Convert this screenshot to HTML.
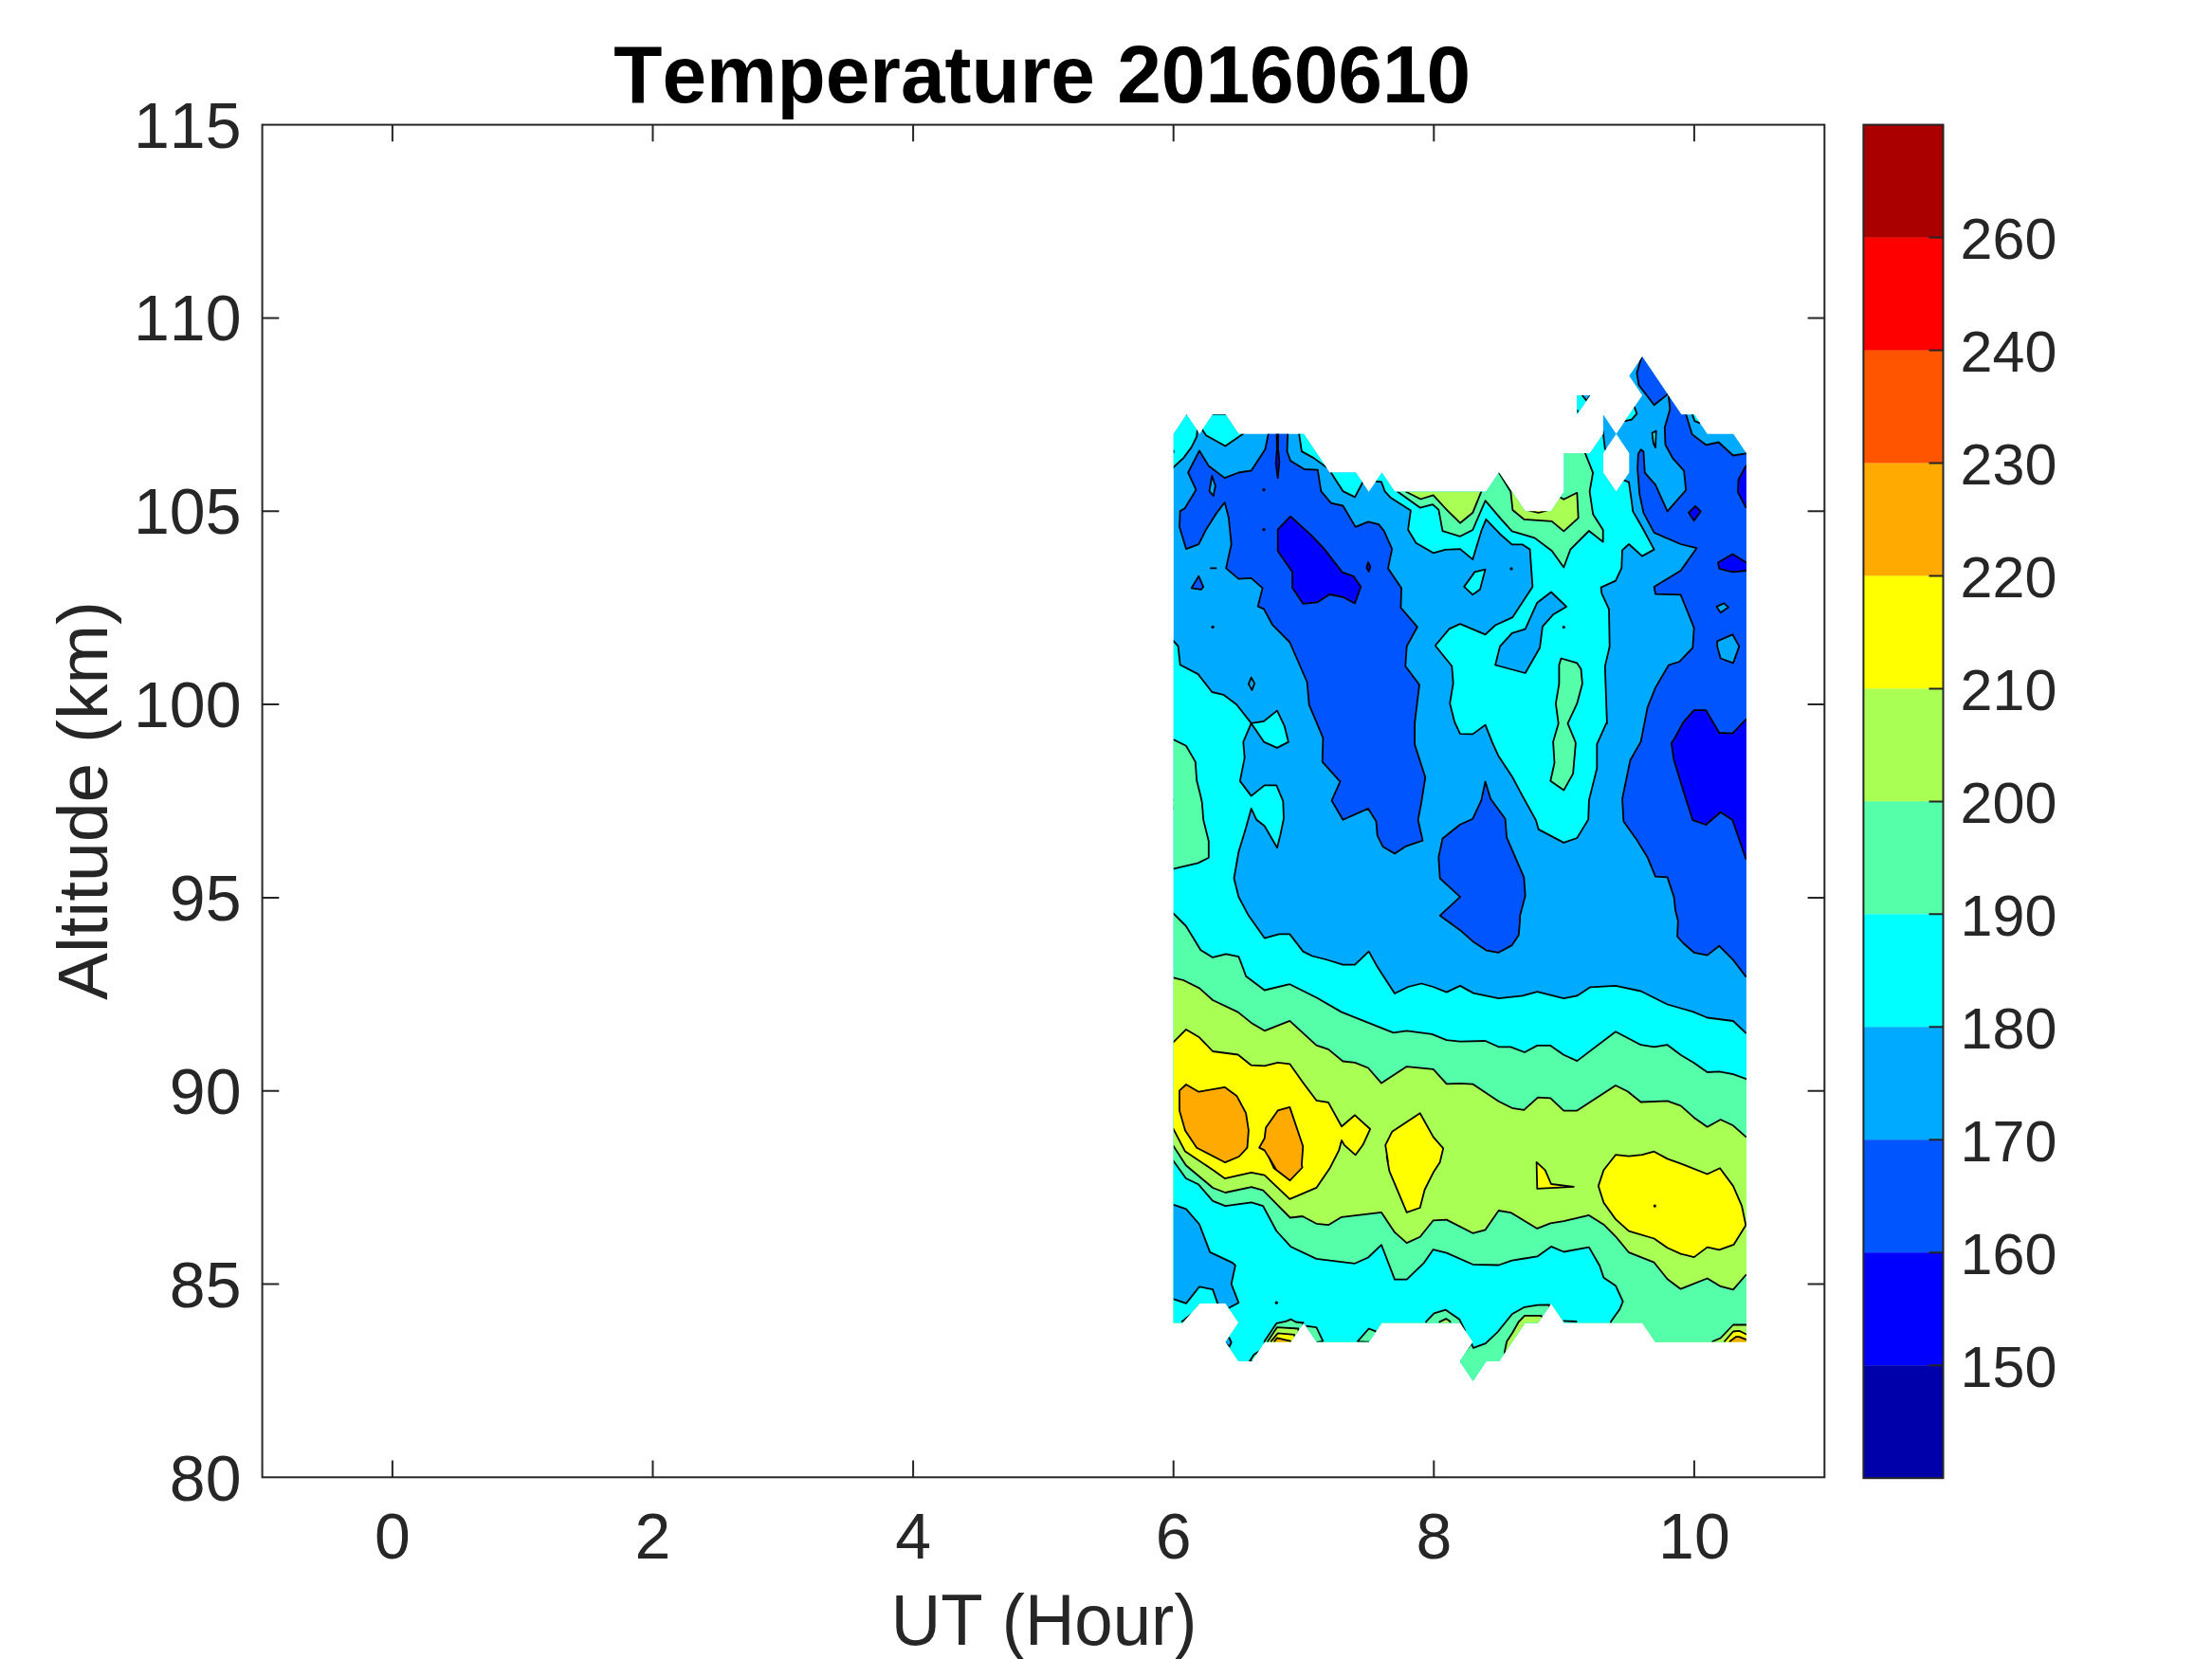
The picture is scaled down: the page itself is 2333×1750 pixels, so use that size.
<!DOCTYPE html>
<html><head><meta charset="utf-8">
<style>
html,body{margin:0;padding:0;background:#fff;width:2333px;height:1750px;overflow:hidden}
svg{display:block}
text{font-family:"Liberation Sans",sans-serif;fill:#262626;font-kerning:none;font-feature-settings:"kern" 0}
</style></head><body>
<svg width="2333" height="1750" viewBox="0 0 2333 1750">
<rect x="0" y="0" width="2333" height="1750" fill="#fff"/>
<!--CONTOUR-->
<defs><clipPath id="dm"><path clip-rule="evenodd" d="M1237.8 457.7 L1251.5 437.3 L1265.2 457.7 L1279.0 437.3 L1292.7 437.3 L1306.4 457.7 L1375.1 457.7 L1402.5 498.5 L1430.0 498.5 L1443.7 518.8 L1457.5 498.5 L1471.2 518.8 L1567.3 518.8 L1581.0 498.5 L1594.8 518.8 L1608.5 539.2 L1636.0 539.2 L1649.7 518.8 L1649.7 478.1 L1677.1 478.1 L1690.9 457.7 L1690.9 437.3 L1704.6 457.7 L1732.1 416.9 L1718.3 396.6 L1732.1 376.2 L1773.3 437.3 L1787.0 437.3 L1800.7 457.7 L1828.2 457.7 L1841.9 478.1 L1841.9 1415.6 L1745.8 1415.6 L1732.1 1395.2 L1649.7 1395.2 L1636.0 1374.9 L1622.2 1395.2 L1608.5 1395.2 L1581.0 1436.0 L1567.3 1436.0 L1553.6 1456.4 L1539.8 1436.0 L1553.6 1415.6 L1539.8 1395.2 L1457.5 1395.2 L1443.7 1415.6 L1388.8 1415.6 L1375.1 1395.2 L1361.3 1415.6 L1333.9 1415.6 L1320.1 1436.0 L1306.4 1436.0 L1292.7 1415.6 L1306.4 1395.2 L1292.7 1374.9 L1265.2 1374.9 L1247.4 1395.2 L1237.8 1395.2ZM1704.6 457.7 L1718.3 478.1 L1718.3 498.5 L1704.6 518.8 L1690.9 498.5 L1690.9 478.1ZM1663.4 416.9 L1677.1 416.9 L1663.4 437.3Z"/></clipPath></defs>
<g clip-path="url(#dm)">
<path d="M1200.0 300.0 L1880.0 300.0 L1880.0 1480.0 L1200.0 1480.0Z" fill="#00AAFF"/>
<g stroke="#000" stroke-width="1.8" stroke-linejoin="round">
<path d="M1237.0 493.6 L1248.2 483.1 L1256.6 471.9 L1262.2 460.6 L1262.9 452.9 L1263.6 436.8 L1230.0 436.8 L1230.0 493.6Z" fill="#00FFFF"/>
<path d="M1267.8 452.9 L1272.0 459.2 L1292.4 470.5 L1312.0 457.1 L1314.1 436.8 L1267.1 436.8Z" fill="#00FFFF"/>
<path d="M1370.1 457.1 L1372.9 476.1 L1385.6 483.1 L1398.9 492.9 L1405.2 487.3 L1370.1 441.0Z" fill="#00FFFF"/>
<path d="M1403.8 498.5 L1416.4 518.1 L1429.0 524.4 L1437.1 509.0 L1438.8 498.5 L1403.8 492.9Z" fill="#00FFFF"/>
<path d="M1450.0 507.6 L1457.0 508.3 L1460.5 518.1 L1466.8 525.1 L1487.9 538.4 L1485.1 558.7 L1493.5 572.8 L1511.7 583.3 L1524.3 579.8 L1540.0 579.1 L1553.3 590.1 L1562.4 560.0 L1567.3 547.8 L1582.0 563.2 L1594.7 574.4 L1605.9 574.4 L1613.6 579.6 L1616.4 618.9 L1595.4 651.1 L1577.1 659.5 L1566.6 669.3 L1540.0 658.1 L1528.5 663.4 L1513.8 681.0 L1531.3 702.7 L1532.7 720.9 L1529.2 741.9 L1534.1 761.5 L1540.0 774.2 L1553.3 774.4 L1566.6 764.6 L1573.6 782.4 L1580.6 797.8 L1594.7 818.9 L1605.9 839.9 L1619.9 865.1 L1622.7 874.9 L1649.3 888.9 L1663.3 884.0 L1675.2 864.4 L1675.9 844.1 L1684.3 810.5 L1684.3 785.2 L1694.2 762.8 L1694.9 763.2 L1692.8 702.9 L1697.7 681.9 L1697.0 642.7 L1689.3 625.9 L1688.6 619.6 L1704.0 612.6 L1710.3 599.2 L1711.0 580.3 L1718.0 574.0 L1732.0 586.6 L1744.6 579.6 L1732.0 556.2 L1722.2 539.4 L1720.8 528.2 L1718.0 508.6 L1712.4 506.5 L1704.0 486.1 L1692.8 473.5 L1690.7 455.3 L1680.1 444.1 L1680.1 402.0 L1582.0 402.0 L1456.0 470.0 L1440.0 505.0Z" fill="#00FFFF"/>
<path d="M1544.2 618.9 L1555.4 603.4 L1566.6 600.6 L1561.0 621.7 L1553.3 627.3Z" fill="#00FFFF"/>
<path d="M1713.8 444.1 L1720.8 442.7 L1726.4 436.4 L1723.6 428.7 L1722.2 416.1 L1708.2 438.5Z" fill="#00FFFF"/>
<path d="M1784.6 436.4 L1787.4 444.1 L1792.3 446.2 L1796.5 438.5 L1786.7 430.1Z" fill="#00FFFF"/>
<path d="M1237.0 675.4 L1242.6 681.7 L1244.7 701.3 L1263.6 711.1 L1278.3 730.0 L1290.3 732.8 L1304.3 743.3 L1319.7 762.9 L1311.3 782.6 L1312.7 799.4 L1307.8 823.9 L1319.7 839.6 L1333.7 828.4 L1346.3 828.4 L1353.3 845.2 L1354.0 863.4 L1350.5 880.3 L1347.0 894.3 L1333.7 871.2 L1325.3 864.8 L1319.7 852.9 L1314.1 873.3 L1306.4 898.5 L1301.5 926.5 L1306.4 946.1 L1316.9 965.8 L1333.7 989.6 L1349.1 985.4 L1360.3 985.4 L1374.3 1003.6 L1384.2 1008.5 L1398.2 1012.0 L1416.4 1017.6 L1429.0 1017.6 L1443.7 1003.6 L1452.8 1020.0 L1471.0 1048.0 L1485.1 1041.0 L1499.1 1037.5 L1511.7 1041.0 L1525.7 1046.6 L1540.0 1039.9 L1554.0 1047.6 L1580.6 1053.2 L1605.9 1050.4 L1621.3 1046.2 L1649.3 1053.2 L1663.3 1050.4 L1677.3 1041.3 L1704.0 1039.9 L1730.6 1045.5 L1758.6 1059.5 L1785.3 1067.2 L1800.7 1073.5 L1828.0 1077.0 L1841.3 1089.6 L1890.4 1089.6 L1880.0 1480.0 L1200.0 1480.0 L1188.0 675.4Z" fill="#00FFFF"/>
<path d="M1319.7 762.9 L1333.0 760.8 L1347.0 749.6 L1354.7 765.8 L1358.9 782.6 L1347.0 788.9 L1333.0 782.6Z" fill="#00FFFF"/>
<path d="M1337.9 457.1 L1334.4 474.0 L1319.7 496.4 L1306.4 498.5 L1291.7 504.1 L1274.8 491.5 L1265.0 475.4 L1253.1 498.5 L1261.5 516.7 L1249.6 536.3 L1244.7 539.1 L1244.0 555.9 L1251.0 579.1 L1264.3 574.2 L1272.0 558.7 L1282.6 541.9 L1291.7 530.0 L1295.9 546.1 L1298.7 574.2 L1293.1 599.4 L1306.4 610.6 L1319.7 609.9 L1331.6 620.4 L1326.7 639.6 L1333.0 642.4 L1342.1 659.2 L1360.3 677.5 L1378.6 719.5 L1380.7 743.3 L1395.4 778.4 L1394.7 803.6 L1412.2 823.2 L1413.6 824.2 L1404.5 844.5 L1416.4 864.8 L1443.0 852.9 L1451.4 866.2 L1452.8 881.7 L1458.4 892.9 L1471.0 900.6 L1482.3 892.9 L1500.5 886.6 L1495.6 864.8 L1499.1 846.6 L1503.3 820.0 L1492.1 785.4 L1492.1 762.9 L1497.0 722.3 L1482.3 702.7 L1483.7 681.7 L1494.9 661.3 L1477.4 641.0 L1478.1 620.0 L1478.1 620.4 L1464.0 599.4 L1468.2 579.1 L1459.8 560.1 L1454.2 553.1 L1443.0 550.3 L1429.7 555.9 L1416.4 533.5 L1403.8 530.7 L1393.3 518.1 L1389.8 495.7 L1375.8 495.0 L1361.0 485.9 L1357.5 476.1 L1358.2 457.1 L1358.2 436.8 L1337.9 436.8Z" fill="#0055FF"/>
<path d="M1264.3 607.8 L1269.2 619.0 L1267.1 621.8 L1256.6 620.4Z" fill="#0055FF"/>
<path d="M1223.0 841.0 L1239.8 844.5 L1237.7 853.6 L1223.0 853.6Z" fill="#AAFF55"/>
<path d="M1731.3 376.8 L1726.4 393.6 L1728.5 406.2 L1744.6 427.3 L1758.6 416.1 L1764.2 402.0 L1736.2 367.0Z" fill="#0055FF"/>
<path d="M1760.0 418.9 L1761.4 431.5 L1755.8 451.1 L1756.5 469.3 L1764.2 483.3 L1776.1 496.6 L1778.2 517.0 L1758.6 539.4 L1746.0 511.4 L1734.8 498.7 L1733.4 476.3 L1730.6 474.2 L1727.8 479.1 L1727.1 494.5 L1729.2 521.2 L1733.4 540.8 L1744.6 561.8 L1772.6 574.0 L1789.5 578.2 L1772.6 602.0 L1744.6 618.9 L1746.0 626.6 L1772.6 627.3 L1786.7 662.3 L1785.3 683.3 L1771.2 698.0 L1760.0 701.5 L1746.0 725.4 L1737.6 746.4 L1730.6 782.4 L1719.4 802.0 L1711.0 842.7 L1712.4 866.5 L1726.4 886.1 L1737.6 904.3 L1746.0 924.7 L1758.6 925.4 L1765.6 946.4 L1767.0 960.0 L1769.8 971.2 L1769.1 988.0 L1775.4 995.0 L1786.7 1004.8 L1800.7 1007.6 L1813.3 997.8 L1828.0 1012.6 L1841.3 1030.1 L1890.4 1030.1 L1890.4 478.4 L1841.3 478.4 L1828.0 480.5 L1812.6 466.5 L1799.3 469.3 L1784.6 458.1 L1778.2 437.1 L1778.2 416.1 L1764.2 406.2Z" fill="#0055FF"/>
<path d="M1540.0 869.8 L1521.5 884.5 L1517.3 904.1 L1518.7 926.5 L1540.0 946.1 L1518.7 965.8 L1540.0 981.2 L1554.0 993.6 L1568.0 1002.7 L1580.6 1004.8 L1594.7 997.1 L1601.7 986.6 L1603.1 971.2 L1603.1 966.0 L1608.7 945.0 L1607.3 925.4 L1589.1 883.3 L1587.6 863.7 L1572.2 842.7 L1566.6 824.5 L1562.4 844.1 L1553.3 863.7Z" fill="#0055FF"/>
<path d="M1361.0 544.7 L1382.8 564.3 L1396.1 578.4 L1415.7 603.6 L1427.6 607.8 L1435.3 619.0 L1429.0 636.5 L1416.4 629.8 L1402.4 627.0 L1389.1 635.4 L1374.3 636.8 L1363.1 620.0 L1363.1 603.6 L1347.7 581.2 L1347.7 558.7Z" fill="#0000FF"/>
<path d="M1346.3 448.0 L1348.3 448.0 L1348.0 473.3 L1349.4 487.3 L1347.7 504.1 L1345.6 488.7 L1346.9 473.3Z" fill="#0000FF"/>
<path d="M1443.0 593.1 L1445.4 598.0 L1443.7 602.9 L1441.3 598.7Z" fill="#0000FF"/>
<path d="M1841.3 491.7 L1833.6 505.8 L1832.9 519.1 L1841.3 535.2 L1890.4 535.2 L1890.4 491.7Z" fill="#0000FF"/>
<path d="M1781.0 540.8 L1788.1 533.8 L1793.7 539.4 L1786.7 549.2Z" fill="#0000FF"/>
<path d="M1811.9 593.6 L1827.3 584.5 L1841.3 592.9 L1890.4 592.9 L1890.4 602.0 L1841.3 602.0 L1827.3 603.4 L1813.3 599.9Z" fill="#0000FF"/>
<path d="M1765.6 780.0 L1775.4 761.8 L1786.7 749.2 L1799.3 749.2 L1813.3 773.0 L1827.3 773.7 L1841.3 759.0 L1890.4 759.0 L1890.4 905.8 L1841.3 905.8 L1827.3 865.1 L1814.7 856.7 L1799.3 870.0 L1785.3 865.1 L1775.4 834.3 L1765.6 802.0 L1762.8 783.8Z" fill="#0000FF"/>
<path d="M1278.3 502.0 L1281.9 512.5 L1279.8 523.0 L1275.5 518.1Z" fill="#00AAFF"/>
<path d="M1810.5 639.9 L1818.2 636.4 L1823.1 640.6 L1814.7 646.2Z" fill="#00AAFF"/>
<path d="M1811.2 676.3 L1827.3 669.3 L1834.3 681.9 L1828.0 699.4 L1814.7 694.5 L1811.2 681.9Z" fill="#00AAFF"/>
<path d="M1319.7 714.6 L1323.2 720.9 L1320.4 727.9 L1316.9 721.6Z" fill="#00AAFF"/>
<path d="M1636.0 624.5 L1652.1 639.9 L1638.1 648.3 L1626.9 660.9 L1624.1 683.3 L1608.7 710.0 L1577.1 701.5 L1582.0 681.9 L1594.7 667.9 L1608.7 663.7 L1621.3 635.7Z" fill="#00AAFF"/>
<path d="M1742.5 456.7 L1746.7 454.6 L1746.0 472.1 L1743.9 467.9Z" fill="#00FFFF"/>
<path d="M1668.0 410.0 L1682.0 410.0 L1673.4 422.8 L1668.6 416.8Z" fill="#00AAFF"/>
<path d="M1237.0 779.8 L1251.0 786.8 L1260.8 803.6 L1262.2 823.2 L1266.4 840.0 L1267.8 846.6 L1269.2 864.8 L1274.8 887.3 L1274.8 904.8 L1263.6 910.4 L1237.0 916.7 L1188.0 916.7 L1188.0 779.8Z" fill="#55FFAA"/>
<path d="M1473.2 518.1 L1497.7 535.6 L1511.0 532.1 L1517.3 537.7 L1521.5 560.1 L1540.0 565.8 L1553.3 559.0 L1566.6 528.2 L1583.4 547.8 L1594.7 560.4 L1618.5 567.4 L1636.7 581.0 L1649.3 598.5 L1656.3 579.6 L1675.9 560.0 L1690.7 571.6 L1690.7 559.0 L1680.1 542.2 L1676.6 518.4 L1680.1 498.7 L1671.7 477.7 L1671.7 458.1 L1582.0 486.1 L1475.0 490.0Z" fill="#55FFAA"/>
<path d="M1646.5 694.5 L1663.3 699.4 L1667.5 705.8 L1668.9 721.2 L1663.3 742.2 L1653.5 763.2 L1660.5 780.0 L1661.9 783.8 L1659.1 816.1 L1649.3 833.6 L1635.3 823.8 L1639.5 804.8 L1638.1 782.4 L1643.7 763.2 L1640.9 742.2 L1644.4 721.2 L1644.4 701.5Z" fill="#55FFAA"/>
<path d="M1237.0 962.9 L1251.0 977.0 L1266.4 1002.2 L1279.1 1009.9 L1293.1 1006.4 L1306.4 1009.2 L1310.6 1020.0 L1314.1 1029.8 L1333.7 1044.5 L1360.3 1038.2 L1388.4 1052.2 L1415.0 1067.6 L1469.6 1089.4 L1483.7 1087.3 L1510.3 1090.8 L1525.7 1097.1 L1540.0 1098.7 L1566.6 1098.0 L1580.6 1104.3 L1593.3 1104.3 L1608.0 1110.0 L1621.3 1102.9 L1635.3 1102.9 L1649.3 1112.8 L1663.3 1119.1 L1704.0 1088.2 L1730.6 1102.2 L1744.6 1104.3 L1758.6 1102.2 L1772.6 1112.8 L1786.7 1121.2 L1800.7 1131.0 L1813.3 1130.3 L1828.0 1133.1 L1841.3 1138.0 L1890.4 1138.0 L1880.0 1480.0 L1200.0 1480.0 L1188.0 962.9Z" fill="#55FFAA"/>
<path d="M1483.0 518.8 L1498.4 526.5 L1511.7 522.3 L1525.7 537.7 L1540.0 551.7 L1553.3 540.8 L1562.4 518.4 L1562.4 500.1 L1483.0 504.1Z" fill="#AAFF55"/>
<path d="M1580.6 498.0 L1593.3 518.4 L1595.4 538.0 L1607.3 547.8 L1636.7 549.9 L1649.3 560.4 L1664.7 546.4 L1663.3 519.8 L1649.3 526.8 L1645.8 524.7 L1638.1 528.2 L1607.3 528.2 L1586.2 494.5Z" fill="#AAFF55"/>
<path d="M1612.9 538.7 L1622.7 540.8 L1631.1 538.7 L1631.1 535.9 L1612.9 535.9Z" fill="#FFFF00"/>
<path d="M1237.0 1031.2 L1248.2 1034.0 L1265.0 1042.4 L1279.1 1055.0 L1305.7 1067.6 L1319.7 1078.9 L1333.7 1087.3 L1360.3 1076.8 L1388.4 1102.7 L1401.0 1106.9 L1416.4 1119.5 L1429.0 1120.9 L1443.0 1126.5 L1457.0 1142.6 L1483.7 1125.1 L1511.7 1127.9 L1525.7 1143.3 L1540.0 1142.9 L1553.3 1143.6 L1580.6 1161.8 L1594.7 1168.8 L1607.3 1170.9 L1622.0 1157.6 L1635.3 1158.3 L1649.3 1171.6 L1663.3 1171.6 L1704.0 1145.0 L1716.6 1151.3 L1730.6 1162.5 L1758.6 1161.4 L1772.6 1166.3 L1786.7 1178.9 L1800.7 1188.7 L1814.7 1181.0 L1828.0 1187.3 L1841.3 1199.2 L1890.4 1199.2 L1880.0 1480.0 L1200.0 1480.0 L1188.0 1031.2Z" fill="#AAFF55"/>
<path d="M1237.0 1099.9 L1251.0 1085.9 L1265.0 1094.3 L1279.1 1109.0 L1305.7 1112.5 L1319.7 1123.7 L1333.7 1124.4 L1347.7 1120.9 L1360.3 1122.3 L1374.3 1141.9 L1388.4 1160.8 L1401.0 1162.9 L1415.0 1188.2 L1429.0 1176.3 L1445.1 1191.0 L1437.4 1207.8 L1429.7 1218.3 L1417.8 1207.8 L1415.0 1202.9 L1412.2 1213.4 L1402.4 1232.6 L1388.4 1252.9 L1360.3 1264.8 L1333.7 1239.6 L1319.7 1236.8 L1291.7 1243.1 L1279.1 1234.0 L1250.0 1214.6 L1237.3 1190.4 L1206.9 1190.4 L1188.0 1099.9Z" fill="#FFFF00"/>
<path d="M1461.2 1207.8 L1468.2 1193.8 L1497.7 1174.2 L1511.7 1199.4 L1522.2 1211.3 L1518.7 1226.0 L1511.7 1236.8 L1502.6 1255.0 L1497.7 1274.0 L1483.7 1278.9 L1465.4 1235.4 L1462.6 1220.0 L1464.0 1226.0Z" fill="#FFFF00"/>
<path d="M1620.6 1225.9 L1629.7 1234.3 L1636.0 1249.0 L1659.8 1251.8 L1621.3 1253.9Z" fill="#FFFF00"/>
<path d="M1685.8 1251.1 L1691.4 1234.3 L1704.0 1218.2 L1718.0 1219.6 L1732.0 1218.2 L1744.6 1214.7 L1758.6 1222.4 L1772.6 1227.3 L1800.7 1238.5 L1814.0 1232.2 L1828.0 1251.1 L1837.1 1272.1 L1841.3 1292.4 L1828.7 1312.8 L1813.3 1318.4 L1800.7 1315.6 L1786.7 1326.1 L1772.6 1322.6 L1758.6 1316.3 L1744.6 1306.5 L1718.0 1298.7 L1704.0 1286.1 L1691.4 1268.6Z" fill="#FFFF00"/>
<path d="M1244.0 1150.3 L1251.0 1144.0 L1264.3 1151.7 L1291.7 1146.8 L1304.3 1155.9 L1314.1 1174.2 L1316.9 1192.4 L1315.5 1210.6 L1306.8 1220.0 L1292.2 1226.2 L1262.2 1210.7 L1250.0 1192.4 L1244.0 1171.4Z" fill="#FFAA00"/>
<path d="M1347.7 1171.4 L1360.3 1167.9 L1374.3 1209.2 L1372.9 1228.8 L1373.6 1231.5 L1360.6 1245.2 L1343.7 1232.3 L1337.9 1220.0 L1346.3 1234.4 L1333.7 1213.4 L1328.1 1210.6 L1333.7 1200.8 L1335.1 1189.6Z" fill="#FFAA00"/>
<path d="M1237.3 1208.4 L1250.8 1229.2 L1279.2 1253.0 L1292.3 1258.0 L1319.9 1252.2 L1332.2 1255.7 L1360.7 1284.5 L1373.7 1283.0 L1388.4 1290.8 L1401.0 1292.2 L1415.0 1283.8 L1457.0 1278.9 L1471.0 1299.9 L1483.7 1311.1 L1497.7 1304.8 L1511.7 1287.3 L1525.7 1286.6 L1553.3 1300.8 L1566.6 1297.3 L1580.6 1277.0 L1593.3 1279.1 L1607.3 1287.5 L1621.3 1295.9 L1635.3 1290.3 L1649.3 1288.2 L1675.9 1281.9 L1691.4 1291.7 L1704.0 1304.3 L1718.0 1321.2 L1744.6 1331.7 L1758.6 1349.2 L1772.6 1359.7 L1800.7 1348.5 L1814.7 1356.9 L1828.0 1360.4 L1841.3 1345.0 L1890.4 1345.0 L1880.0 1480.0 L1200.0 1480.0 L1206.9 1208.4Z" fill="#55FFAA"/>
<path d="M1237.3 1224.2 L1250.8 1243.0 L1263.8 1249.2 L1279.2 1266.8 L1292.3 1272.2 L1319.9 1268.4 L1332.2 1272.2 L1346.3 1298.5 L1361.7 1315.3 L1388.4 1327.9 L1429.0 1332.8 L1443.0 1326.5 L1457.0 1313.2 L1471.0 1349.6 L1483.7 1349.6 L1501.9 1332.1 L1511.7 1318.1 L1525.7 1321.6 L1553.3 1333.8 L1580.6 1334.5 L1594.7 1329.6 L1608.0 1327.5 L1621.3 1325.4 L1636.0 1314.9 L1649.3 1320.5 L1675.9 1315.6 L1687.2 1335.2 L1691.4 1347.8 L1704.0 1356.2 L1711.7 1372.9 L1708.2 1381.3 L1699.1 1394.0 L1699.1 1466.1 L1200.0 1480.0 L1206.9 1224.2Z" fill="#00FFFF"/>
<path d="M1237.0 1270.5 L1251.0 1275.4 L1265.0 1291.5 L1276.2 1320.9 L1300.1 1332.1 L1302.9 1334.9 L1298.7 1354.5 L1306.4 1374.2 L1295.9 1379.8 L1288.9 1381.2 L1284.0 1374.2 L1279.1 1360.1 L1265.0 1357.3 L1251.0 1374.9 L1237.0 1370.0 L1188.0 1370.0 L1188.0 1270.5Z" fill="#00AAFF"/>
<path d="M1291.7 1409.9 L1296.6 1411.3 L1298.7 1416.2 L1296.6 1420.5 L1291.7 1416.2Z" fill="#00AAFF"/>
<path d="M1318.0 1435.9 L1322.5 1428.9 L1330.2 1424.0 L1336.5 1416.2 L1336.5 1437.3Z" fill="#55FFAA"/>
<path d="M1333.7 1414.8 L1346.3 1395.9 L1356.1 1393.8 L1361.7 1391.7 L1366.6 1394.5 L1374.3 1395.5 L1374.3 1405.0 L1364.5 1426.1 L1333.7 1426.1Z" fill="#55FFAA"/>
<path d="M1337.2 1414.8 L1347.0 1400.1 L1369.4 1401.5 L1370.1 1412.0 L1364.5 1426.1 L1337.2 1426.1Z" fill="#AAFF55"/>
<path d="M1340.7 1414.8 L1347.7 1406.4 L1365.2 1407.8 L1366.6 1416.2 L1340.7 1426.1Z" fill="#FFFF00"/>
<path d="M1344.2 1414.8 L1347.0 1411.3 L1361.0 1414.6 L1361.0 1426.1 L1344.2 1426.1Z" fill="#FFAA00"/>
<path d="M1374.3 1395.2 L1376.5 1398.7 L1388.4 1400.1 L1395.4 1414.8 L1387.0 1416.2Z" fill="#55FFAA"/>
<path d="M1431.8 1415.1 L1443.7 1401.5 L1451.1 1404.3 L1454.2 1416.2Z" fill="#55FFAA"/>
<path d="M1504.2 1394.0 L1512.5 1385.3 L1524.8 1381.7 L1539.3 1391.8 L1545.1 1403.4 L1545.1 1410.6 L1504.2 1410.6Z" fill="#55FFAA"/>
<path d="M1518.3 1394.4 L1525.2 1391.1 L1529.5 1394.0 L1529.5 1397.6 L1518.3 1397.6Z" fill="#AAFF55"/>
<path d="M1634.1 1376.3 L1621.8 1376.6 L1608.0 1378.8 L1595.0 1386.0 L1579.8 1404.8 L1566.8 1417.1 L1553.8 1421.8 L1552.0 1417.1 L1537.9 1435.2 L1553.1 1461.3 L1581.3 1439.6 L1634.8 1388.9Z" fill="#55FFAA"/>
<path d="M1587.1 1425.1 L1589.2 1415.0 L1595.0 1406.3 L1601.5 1394.7 L1608.0 1387.8 L1625.4 1387.8 L1627.6 1390.4 L1621.8 1400.5 L1587.1 1432.3Z" fill="#AAFF55"/>
<path d="M1806.3 1415.0 L1814.7 1411.5 L1828.0 1397.5 L1839.9 1397.5 L1890.4 1397.5 L1890.4 1438.1 L1806.3 1438.1Z" fill="#AAFF55"/>
<path d="M1818.9 1415.0 L1828.0 1404.5 L1834.3 1403.8 L1841.3 1407.3 L1890.4 1407.3 L1890.4 1438.1 L1818.9 1438.1Z" fill="#FFFF00"/>
<path d="M1824.5 1415.0 L1830.8 1410.1 L1834.3 1410.1 L1841.3 1412.9 L1890.4 1412.9 L1890.4 1438.1 L1824.5 1438.1Z" fill="#FFAA00"/>
<path d="M1246.1 1394.5 L1256.6 1386.1" fill="none"/>
<path d="M1648.6 1393.3 L1663.3 1394.0" fill="none"/>
<path d="M1276.2 599.4 L1283.3 599.4" fill="none"/>
<path d="M1237.0 474.0 L1238.1 477.5" fill="none"/>
</g>
<circle cx="1333.0" cy="516.7" r="1.6" fill="#000"/>
<circle cx="1333.0" cy="558.7" r="1.6" fill="#000"/>
<circle cx="1279.1" cy="661.3" r="1.6" fill="#000"/>
<circle cx="1594.0" cy="599.9" r="1.6" fill="#000"/>
<circle cx="1649.3" cy="661.6" r="1.6" fill="#000"/>
<circle cx="1663.3" cy="433.6" r="1.6" fill="#000"/>
<circle cx="1745.3" cy="1272.1" r="1.6" fill="#000"/>
<circle cx="1346.3" cy="1374.2" r="1.6" fill="#000"/>
</g>
<!--/CONTOUR-->
<g id="axes" stroke="#262626" stroke-width="2" fill="none">
<rect x="276.6" y="131.6" width="1647.7" height="1426.7"/>
<path d="M413.9 1558.3V1540.6M688.5 1558.3V1540.6M963.1 1558.3V1540.6M1237.7 1558.3V1540.6M1512.3 1558.3V1540.6M1786.9 1558.3V1540.6
M413.9 131.6V149.3M688.5 131.6V149.3M963.1 131.6V149.3M1237.7 131.6V149.3M1512.3 131.6V149.3M1786.9 131.6V149.3
M276.6 1354.5H294.3M276.6 1150.7H294.3M276.6 946.9H294.3M276.6 743.0H294.3M276.6 539.2H294.3M276.6 335.4H294.3
M1924.3 1354.5H1906.6M1924.3 1150.7H1906.6M1924.3 946.9H1906.6M1924.3 743.0H1906.6M1924.3 539.2H1906.6M1924.3 335.4H1906.6"/>
</g>
<g id="yticks" font-size="68" text-anchor="end">
<text x="254.5" y="1583">80</text>
<text x="254.5" y="1379">85</text>
<text x="254.5" y="1175">90</text>
<text x="254.5" y="971">95</text>
<text x="254.5" y="767">100</text>
<text x="254.5" y="563">105</text>
<text x="254.5" y="359">110</text>
<text x="254.5" y="156">115</text>
</g>
<g id="xticks" font-size="68" text-anchor="middle">
<text x="413.9" y="1644">0</text>
<text x="688.5" y="1644">2</text>
<text x="963.1" y="1644">4</text>
<text x="1237.7" y="1644">6</text>
<text x="1512.3" y="1644">8</text>
<text x="1786.9" y="1644">10</text>
</g>
<text x="1101.1" y="1735" font-size="75.5" text-anchor="middle" textLength="322.7" lengthAdjust="spacingAndGlyphs">UT (Hour)</text>
<text transform="translate(113.2 844.5) rotate(-90)" x="0" y="0" font-size="75" text-anchor="middle">Altitude (km)</text>
<text x="1099.2" y="107.6" font-size="85" font-weight="bold" text-anchor="middle" textLength="904" lengthAdjust="spacingAndGlyphs" style="fill:#000">Temperature 20160610</text>
<!-- colorbar -->
<g id="cbar">
<rect x="1965.4" y="131.60" width="84.1" height="119.27" fill="#AA0000"/>
<rect x="1965.4" y="250.57" width="84.1" height="119.27" fill="#FF0000"/>
<rect x="1965.4" y="369.53" width="84.1" height="119.27" fill="#FF5500"/>
<rect x="1965.4" y="488.50" width="84.1" height="119.27" fill="#FFAA00"/>
<rect x="1965.4" y="607.47" width="84.1" height="119.27" fill="#FFFF00"/>
<rect x="1965.4" y="726.43" width="84.1" height="119.27" fill="#AAFF55"/>
<rect x="1965.4" y="845.40" width="84.1" height="119.27" fill="#55FFAA"/>
<rect x="1965.4" y="964.37" width="84.1" height="119.27" fill="#00FFFF"/>
<rect x="1965.4" y="1083.33" width="84.1" height="119.27" fill="#00AAFF"/>
<rect x="1965.4" y="1202.30" width="84.1" height="119.27" fill="#0055FF"/>
<rect x="1965.4" y="1321.27" width="84.1" height="119.27" fill="#0000FF"/>
<rect x="1965.4" y="1440.23" width="84.1" height="118.97" fill="#0000AA"/>
<rect x="1965.4" y="131.60" width="84.1" height="1427.60" fill="none" stroke="#262626" stroke-width="2"/>
<path stroke="#262626" stroke-width="2" d="M2049.5 250.57H2034.5M2049.5 369.53H2034.5M2049.5 488.50H2034.5M2049.5 607.47H2034.5M2049.5 726.43H2034.5M2049.5 845.40H2034.5M2049.5 964.37H2034.5M2049.5 1083.33H2034.5M2049.5 1202.30H2034.5M2049.5 1321.27H2034.5M2049.5 1440.23H2034.5"/>
</g>
<g id="cticks" font-size="61" text-anchor="start">
<text x="2067.6" y="273.1">260</text>
<text x="2067.6" y="392.0">240</text>
<text x="2067.6" y="511.0">230</text>
<text x="2067.6" y="630.0">220</text>
<text x="2067.6" y="748.9">210</text>
<text x="2067.6" y="867.9">200</text>
<text x="2067.6" y="986.9">190</text>
<text x="2067.6" y="1105.8">180</text>
<text x="2067.6" y="1224.8">170</text>
<text x="2067.6" y="1343.8">160</text>
<text x="2067.6" y="1462.7">150</text>
</g>
</svg>
</body></html>
